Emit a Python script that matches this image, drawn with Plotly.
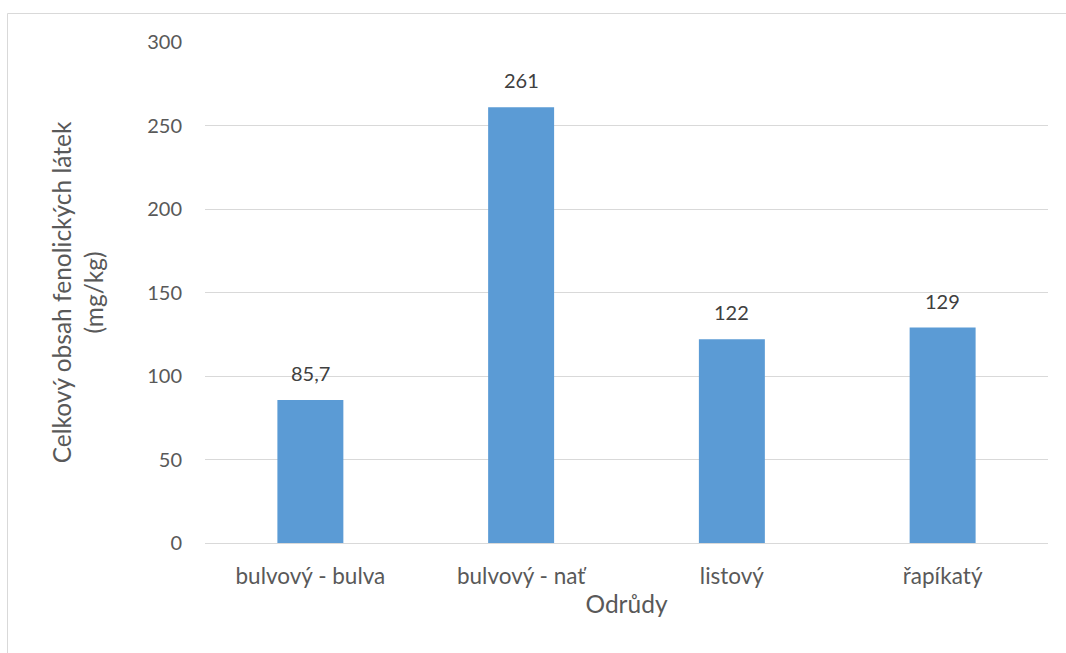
import plotly.graph_objects as go

categories = ["bulvový - bulva", "bulvový - nať", "listový", "řapíkatý"]
values = [85.7, 261, 122, 129]
value_labels = ["85,7", "261", "122", "129"]
y_ticks = [0, 50, 100, 150, 200, 250, 300]

FONT = "Lato"
GRAY = "#595959"
GRID = "#d9d9d9"

fig = go.Figure()
fig.add_trace(go.Bar(
    x=categories, y=values,
    marker=dict(color="#5b9bd5", line=dict(width=0)),
    width=0.313,
    hoverinfo="x+y",
))

for c, v, t in zip(categories, values, value_labels):
    fig.add_annotation(x=c, y=v, text=t, showarrow=False, yanchor="bottom",
                       yshift=13, font=dict(family=FONT, size=20, color="#404040"))

# chart border
fig.add_shape(type="rect", xref="paper", yref="paper",
              x0=(7.5 - 205) / 843, x1=(1075 - 205) / 843,
              y0=(543 - 670) / 501, y1=(543 - 13.5) / 501,
              line=dict(color=GRID, width=1), fillcolor="rgba(0,0,0,0)", layer="below")

fig.update_layout(
    width=1066, height=653,
    margin=dict(l=205, r=18, t=42, b=110),
    paper_bgcolor="white", plot_bgcolor="white",
    font=dict(family=FONT, size=20, color=GRAY),
    showlegend=False,
    bargap=0.687,
    xaxis=dict(
        showgrid=False, showline=True, linecolor=GRID, linewidth=1,
        ticks="", ticklabelstandoff=13,
        tickfont=dict(family=FONT, size=22.5, color=GRAY),
        title=dict(text="Odrůdy", font=dict(family=FONT, size=24.5, color=GRAY), standoff=6),
        automargin=False,
    ),
    yaxis=dict(
        range=[0, 300], tickvals=y_ticks,
        showgrid=True, gridcolor=GRID, gridwidth=1,
        zeroline=True, zerolinecolor=GRID, zerolinewidth=1,
        showline=False, ticks="", ticklabelstandoff=22,
        tickfont=dict(family=FONT, size=20, color=GRAY),
        title=dict(text="Celkový obsah fenolických látek<br>(mg/kg)",
                   font=dict(family=FONT, size=24.5, color=GRAY), standoff=36),
        automargin=False,
    ),
)

fig.write_html("out.html")
